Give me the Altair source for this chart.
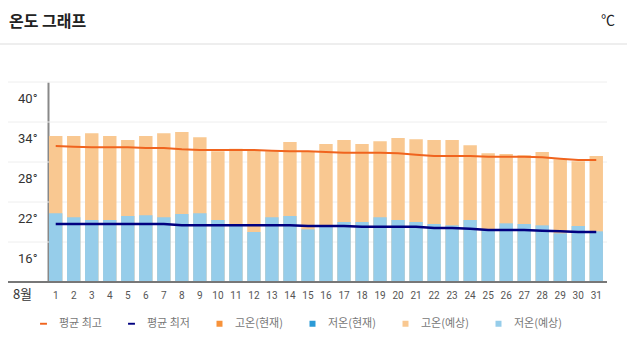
import altair as alt
import pandas as pd

days = list(range(1, 32))
high = [31.9, 31.9, 32.3, 31.9, 31.3, 31.9, 32.3, 32.5, 31.7, 29.6, 30.0, 29.7, 29.6, 31.0, 29.6,
        30.7, 31.3, 30.7, 31.1, 31.6, 31.4, 31.3, 31.3, 30.5, 29.3, 29.2, 29.0, 29.5, 28.4, 28.1, 28.9]
low = [20.3, 19.7, 19.3, 19.3, 19.9, 20.0, 19.7, 20.2, 20.3, 19.3, 18.7, 17.5, 19.7, 19.9, 17.9,
       18.3, 19.0, 19.0, 19.7, 19.3, 19.0, 18.7, 18.5, 19.3, 17.8, 18.8, 18.7, 18.5, 17.3, 18.4, 17.6]
avg_high = [30.4, 30.3, 30.2, 30.2, 30.2, 30.1, 30.1, 29.9, 29.8, 29.8, 29.8, 29.8, 29.7, 29.6, 29.6,
            29.5, 29.4, 29.4, 29.4, 29.3, 29.1, 28.9, 28.9, 28.9, 28.8, 28.8, 28.8, 28.7, 28.5, 28.3, 28.3]
avg_low = [18.7, 18.7, 18.7, 18.7, 18.7, 18.7, 18.7, 18.5, 18.5, 18.5, 18.5, 18.5, 18.5, 18.5, 18.4,
           18.4, 18.4, 18.3, 18.3, 18.3, 18.3, 18.1, 18.1, 18.0, 17.8, 17.8, 17.8, 17.7, 17.6, 17.5, 17.5]

y_ticks = [16, 22, 28, 34, 40]
y_base = [10]
series = ["평균 최고", "평균 최저", "고온(현재)", "저온(현재)", "고온(예상)", "저온(예상)"]
series_colors = ["#f0641e", "#000080", "#f7923a", "#2b9ad6", "#f9c891", "#96cdea"]
DASH = "M-1.15,-0.32H1.15V0.32H-1.15Z"
SQUARE = "M-1,-1H1V1H-1Z"
series_shapes = [DASH, DASH, SQUARE, SQUARE, SQUARE, SQUARE]
title_text = ["온도 그래프"]
unit_text = ["℃"]
month_label = "8월"

df = pd.DataFrame({"day": days, "high": high, "low": low,
                   "avg_high": avg_high, "avg_low": avg_low})

W, H = 559, 200
KR = "Noto Sans CJK KR"

xax = alt.Axis(title=month_label, titleX=-26, titleY=12, titleAlign="center",
               titleBaseline="middle", titleFontSize=13, titleFontWeight="normal",
               titleFont=KR, titleColor="#333", labelAngle=0, labelFontSize=10,
               labelFont="Roboto", labelColor="#555", labelPadding=8,
               domain=False, ticks=False, grid=False)
xenc = alt.X("day:O", scale=alt.Scale(paddingInner=0.255, paddingOuter=0.14, align=0.2), axis=xax)

yscale = alt.Scale(domain=[10, 40], zero=False, nice=False)
yax = alt.Axis(values=y_ticks, labelExpr="datum.value + '°'", title=None, grid=False,
               ticks=False, domainColor="#888", domainWidth=2, labelOffset=16,
               labelPadding=11, labelFontSize=13, labelColor="#333", labelFont="Roboto")


def Y(f):
    return alt.Y(f, scale=yscale, axis=yax)


base = alt.Chart(df)

grid = alt.Chart(pd.DataFrame({"v": y_ticks})).mark_rule(color="#eeeeee", strokeWidth=1).encode(
    y=Y("v:Q"), x=alt.value(-40), x2=alt.value(W))

bars_high = base.mark_bar(color="#f9c891").encode(x=xenc, y=Y("high:Q"), y2=alt.datum(10))
bars_low = base.mark_bar(color="#96cdea").encode(x=xenc, y=Y("low:Q"), y2=alt.datum(10))

baseline = alt.Chart(pd.DataFrame({"v": y_base})).mark_rule(color="#777777", strokeWidth=2).encode(
    y=Y("v:Q"), x=alt.value(-40), x2=alt.value(W))

line_high = base.mark_line(color="#f0641e", strokeWidth=2).encode(x=xenc, y=Y("avg_high:Q"))
line_low = base.mark_line(color="#000080", strokeWidth=2.5).encode(x=xenc, y=Y("avg_low:Q"))

leg = alt.Legend(orient="none", legendX=-10, legendY=236, direction="horizontal", title=None,
                 labelFontSize=11, labelColor="#777", labelFont=KR, symbolSize=36,
                 symbolStrokeWidth=0, labelOffset=10, columnPadding=24, symbolOpacity=1,
                 padding=0)
legend_layer = alt.Chart(pd.DataFrame({"s": series})).mark_point(filled=True, opacity=0).encode(
    color=alt.Color("s:N", scale=alt.Scale(domain=series, range=series_colors), legend=leg, sort=series),
    shape=alt.Shape("s:N", scale=alt.Scale(domain=series, range=series_shapes), legend=leg, sort=series))

title = alt.Chart(pd.DataFrame({"t": title_text})).mark_text(
    align="left", baseline="middle", fontSize=16, fontWeight="bold", font=KR, color="#222").encode(
    text="t:N", x=alt.value(-39), y=alt.value(-60))
unit = alt.Chart(pd.DataFrame({"t": unit_text})).mark_text(
    align="right", baseline="middle", fontSize=14, font=KR, color="#222").encode(
    text="t:N", x=alt.value(567), y=alt.value(-61))
sep = alt.Chart(pd.DataFrame({"t": title_text})).mark_rule(color="#dddddd", strokeWidth=1).encode(
    x=alt.value(-48), x2=alt.value(579), y=alt.value(-38))

chart = alt.layer(grid, bars_high, bars_low, baseline, line_high, line_low, legend_layer,
                  title, unit, sep).properties(
    width=W, height=H, autosize=alt.AutoSizeParams(type="none"),
    padding={"left": 48, "top": 82, "right": 20, "bottom": 69}
).configure_view(stroke=None)

chart.save("out.html", embed_options={"renderer": "svg", "actions": False})
